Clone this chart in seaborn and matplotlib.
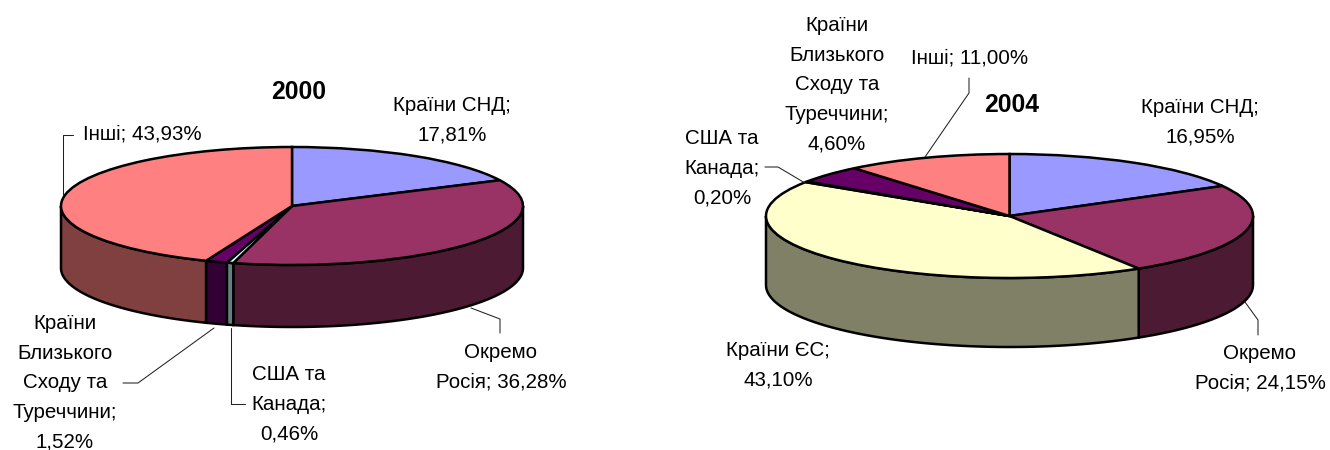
import numpy as np
import matplotlib
matplotlib.use('Agg')
import matplotlib.pyplot as plt
from matplotlib.lines import Line2D
from matplotlib.patches import Polygon
import seaborn as sns

W, H = 1330, 450

#data
labels_2000 = ['Країни СНД', 'Окремо Росія', 'США та Канада', 'Країни Близького Сходу та Туреччини', 'Інші']
values_2000 = [17.81, 36.28, 0.46, 1.52, 43.93]
labels_2004 = ['Країни СНД', 'Окремо Росія', 'Країни ЄС', 'США та Канада', 'Країни Близького Сходу та Туреччини', 'Інші']
values_2004 = [16.95, 24.15, 43.10, 0.20, 4.60, 11.00]

#top colour of each slice, the side wall is the same colour at half brightness
colours_dict = {'Країни СНД': '#9999ff', 'Окремо Росія': '#993366', 'Країни ЄС': '#ffffcc',
                'США та Канада': '#ccffff', 'Країни Близького Сходу та Туреччини': '#660066',
                'Інші': '#ff8080'}

sns.set_theme(style='white')
plt.rcParams['font.family'] = ['Liberation Sans', 'DejaVu Sans']

fig = plt.figure(figsize=(W / 100, H / 100), dpi=100)
fig.patch.set_facecolor('white')


def px(x, y):
    return x / W, 1 - y / H


def pie_3d(labels, values, cx, cy, rx, ry, depth):
    #axes placed so one data unit is rx wide and ry high
    d = depth / ry
    pad = 0.1
    left, bottom = px(cx - rx * (1 + pad), cy + ry * (1 + d + pad))
    ax = fig.add_axes([left, bottom, 2 * rx * (1 + pad) / W, ry * (2 + d + 2 * pad) / H])
    colours = [colours_dict[l] for l in labels]

    #side walls, only the front half of the ring can be seen
    edges = np.cumsum([0] + values) / sum(values) * 360
    for a, b, c in zip(edges[:-1], edges[1:], colours):
        a, b = max(a, 90), min(b, 270)
        if a >= b:
            continue
        t = np.radians(np.linspace(a, b, 80))
        x, y = np.sin(t), np.cos(t)
        xy = np.r_[np.c_[x, y], np.c_[x, y - d][::-1]]
        side = np.array(matplotlib.colors.to_rgb(c)) * 0.5
        ax.add_patch(Polygon(xy, closed=True, facecolor=side, edgecolor='black', linewidth=1.8, zorder=1))

    wedges, _ = ax.pie(values, colors=colours, startangle=90, counterclock=False, radius=1,
                       wedgeprops={'edgecolor': 'black', 'linewidth': 1.8, 'zorder': 2})
    ax.set_aspect('auto')
    ax.set_xlim(-1 - pad, 1 + pad)
    ax.set_ylim(-1 - d - pad, 1 + pad)
    ax.axis('off')
    return ax


def label(text, x, y, **kw):
    fx, fy = px(x, y)
    fig.text(fx, fy, text, ha='center', va='center', multialignment='center',
             fontsize=kw.pop('fontsize', 14.8), color='black', linespacing=1.71, **kw)


def leader(points):
    pts = [px(x, y) for x, y in points]
    fig.add_artist(Line2D([p[0] for p in pts], [p[1] for p in pts], transform=fig.transFigure,
                          color='#222222', linewidth=0.75, zorder=5))


pie_3d(labels_2000, values_2000, 292, 206, 231, 59, 62)
pie_3d(labels_2004, values_2004, 1009.5, 216, 243.5, 62, 69)

#2000 labels
label('2000', 299, 92, fontsize=17.8, fontweight='bold')
label('Країни СНД;\n17,81%', 452, 120)
label('Окремо\nРосія; 36,28%', 501, 367)
label('США та\nКанада;\n0,46%', 289, 404)
label('Країни\nБлизького\nСходу та\nТуреччини;\n1,52%', 65, 383)
label('Інші; 43,93%', 142, 134)
leader([(471, 308), (500, 319), (500, 333)])
leader([(231, 328), (231, 404), (245, 404)])
leader([(214, 328), (138, 383), (123, 383)])
leader([(63, 195), (63, 135), (73, 135)])

#2004 labels
label('2004', 1012, 105, fontsize=17.8, fontweight='bold')
label('Країни СНД;\n16,95%', 1200, 122)
label('Інші; 11,00%', 970, 58)
label('Країни\nБлизького\nСходу та\nТуреччини;\n4,60%', 837, 85)
label('США та\nКанада;\n0,20%', 722, 168)
label('Країни ЄС;\n43,10%', 778, 365)
label('Окремо\nРосія; 24,15%', 1260, 368)
leader([(969, 78), (969, 93), (925, 157)])
leader([(765, 167), (778, 167), (805, 183)])
leader([(1245, 302), (1258, 320), (1258, 335)])

fig.savefig('out.png', dpi=100)
